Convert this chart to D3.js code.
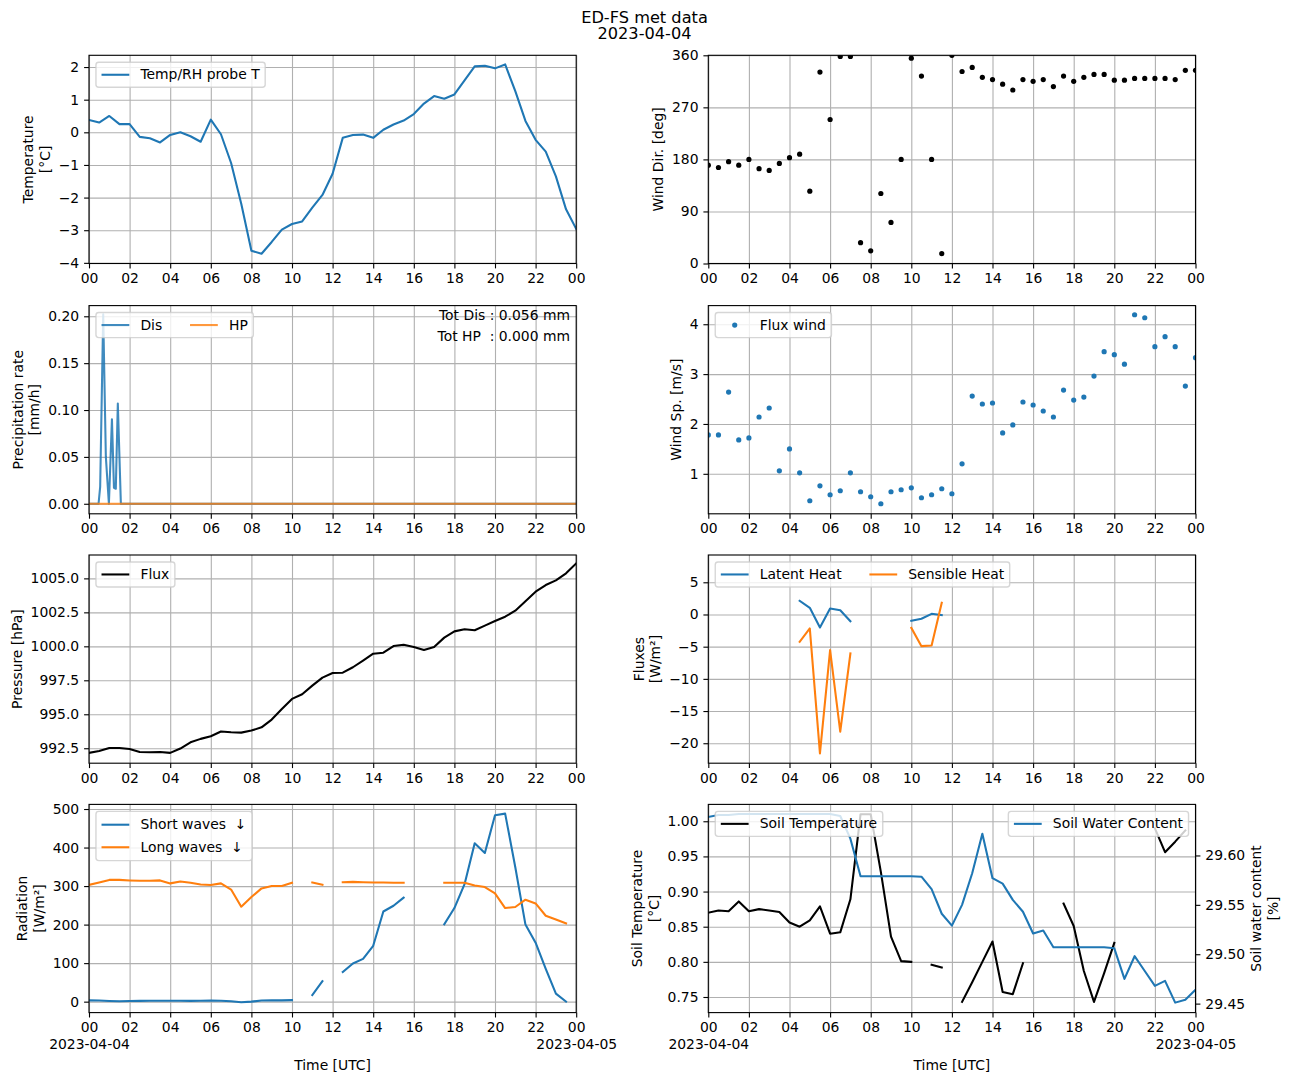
<!DOCTYPE html>
<html><head><meta charset="utf-8">
<script src="https://cdn.jsdelivr.net/npm/d3@7"></script>
<style>
body{margin:0;background:#fff;}
text{font-family:"DejaVu Sans",sans-serif;}
</style></head><body>
<svg id="c" width="1289" height="1082" xmlns="http://www.w3.org/2000/svg"></svg>
<script>
// ---------------- DATA ----------------
const hours = [0,0.5,1,1.5,2,2.5,3,3.5,4,4.5,5,5.5,6,6.5,7,7.5,8,8.5,9,9.5,10,10.5,11,11.5,12,12.5,13,13.5,14,14.5,15,15.5,16,16.5,17,17.5,18,18.5,19,19.5,20,20.5,21,21.5,22,22.5,23,23.5,24];
const xTickHours = [0,2,4,6,8,10,12,14,16,18,20,22,24];
const dateLabels = {0:"2023-04-04", 24:"2023-04-05"};

const tempT = [0.38,0.30,0.50,0.25,0.25,-0.14,-0.18,-0.31,-0.08,0.00,-0.12,-0.29,0.39,-0.06,-0.94,-2.19,-3.63,-3.72,-3.36,-2.98,-2.81,-2.73,-2.31,-1.92,-1.27,-0.17,-0.08,-0.07,-0.17,0.08,0.24,0.36,0.56,0.88,1.11,1.03,1.16,1.59,2.02,2.04,1.96,2.08,1.26,0.35,-0.23,-0.59,-1.35,-2.36,-2.96];
const windDir = [170,166,176,170,180,164,161,173,183,189,125,331,249,358,358,36,22,121,71,180,355,324,180,17,360,332,339,322,318,310,300,318,315,318,306,324,315,322,327,327,317,317,320,320,320,320,318,334,334];
const windSp = [1.78,1.78,2.64,1.68,1.72,2.14,2.32,1.06,1.50,1.02,0.46,0.76,0.58,0.66,1.02,0.64,0.54,0.40,0.64,0.68,0.72,0.52,0.58,0.70,0.60,1.20,2.56,2.40,2.42,1.82,1.98,2.44,2.38,2.26,2.14,2.68,2.48,2.54,2.96,3.45,3.39,3.20,4.19,4.13,3.55,3.75,3.55,2.76,3.33];
const pressure = [992.16,992.30,992.52,992.52,992.45,992.23,992.21,992.23,992.16,992.48,992.94,993.19,993.38,993.73,993.68,993.65,993.80,994.04,994.61,995.39,996.13,996.47,997.11,997.70,998.04,998.06,998.46,998.95,999.46,999.53,1000.02,1000.12,999.95,999.73,999.95,1000.64,1001.10,1001.25,1001.18,1001.52,1001.86,1002.18,1002.62,1003.31,1004.02,1004.51,1004.85,1005.37,1006.10];
const latentHeat = [null,null,null,null,null,null,null,null,null,2.12,1.04,-2.02,0.93,0.67,-1.04,null,null,null,null,null,-0.98,-0.67,0.10,-0.10,null,null,null,null,null,null,null,null,null,null,null,null,null,null,null,null,null,null,null,null,null,null,null,null,null];
const sensibleHeat = [null,null,null,null,null,null,null,null,null,-4.24,-2.17,-21.58,-5.54,-18.2,-6.06,null,null,null,null,null,-2.07,-4.92,-4.81,1.81,null,null,null,null,null,null,null,null,null,null,null,null,null,null,null,null,null,null,null,null,null,null,null,null,null];
const shortWaves = [3.4,3.0,1.7,0.9,1.5,2.0,2.5,2.5,2.5,2.5,2.0,2.5,3.0,2.5,1.0,-1.7,0.0,3.0,3.4,3.4,4.0,null,17,53,null,77,99,111,145,234,249,270,null,null,null,201,243,305,411,386,484,488,349,200,153,85,21,0,null];
const longWaves = [303,309.5,316,316,314.7,313.8,313.8,314.7,307,312,308.6,304,303,307,291,246.5,271.5,294,300,300,308.6,null,309.5,303.4,null,310,311,310,309.5,309.5,308.6,308.6,null,null,null,308.6,308.6,308.6,301.7,297.4,281,243,245.7,264.6,255,223,213,203.4,null];
const soilTemp = [0.870,0.873,0.872,0.886,0.872,0.875,0.873,0.871,0.856,0.850,0.859,0.879,0.840,0.842,0.889,1.010,1.010,0.928,0.836,0.801,0.800,null,0.796,0.792,null,0.743,0.771,0.800,0.829,0.757,0.754,0.798,null,null,null,0.883,0.851,0.787,0.743,0.784,0.827,null,null,null,0.990,0.956,0.971,0.987,null];
const soilWater = [29.639,29.641,29.641,29.642,29.642,29.642,29.642,29.642,29.642,29.642,29.642,29.642,29.642,29.640,29.617,29.579,29.579,29.579,29.579,29.579,29.579,29.5785,29.566,29.541,29.529,29.550,29.582,29.622,29.577,29.5715,29.555,29.543,29.521,29.524,29.507,29.507,29.507,29.507,29.507,29.507,29.506,29.475,29.498,29.483,29.468,29.473,29.451,29.454,29.464];
const disTimes = [0,0.47,0.55,0.70,0.83,0.98,1.13,1.23,1.32,1.42,1.57,24];
const disRate  = [0,0,0.018,0.202,0.05,0,0.09,0.017,0.016,0.107,0,0];
const hpTimes = [0,24];
const hpRate  = [0,0];
const totDis = "0.056", totHP = "0.000";

const tempTicks = [-4,-3,-2,-1,0,1,2];
const dirTicks = [0,90,180,270,360];
const precipTicks = [0,0.05,0.10,0.15,0.20];
const speedTicks = [1,2,3,4];
const pressTicks = [992.5,995,997.5,1000,1002.5,1005];
const fluxTicks = [-20,-15,-10,-5,0,5];
const radTicks = [0,100,200,300,400,500];
const soilTTicks = [0.75,0.80,0.85,0.90,0.95,1.00];
const soilWTicks = [29.45,29.50,29.55,29.60];

// ---------------- LAYOUT ----------------
const FS = 13.9, LW = 2.08, THIN = 1.11;
const BLUE = "#1f77b4", ORANGE = "#ff7f0e";
const LEFT = [89, 708.3], W = 487.2;
const TOPS = [55.3, 305.6, 555, 804.4], H = 208.2;
const svg = d3.select("#c");
svg.append("rect").attr("width",1289).attr("height",1082).attr("fill","#fff");

const title = svg.append("text").attr("text-anchor","middle").attr("font-size",16.2);
title.append("tspan").attr("x",644.5).attr("y",22.7).text("ED-FS met data");
title.append("tspan").attr("x",644.5).attr("y",39.2).text("2023-04-04");

const hFmt = h => d3.format("02d")(h % 24);

function makePanel(col,row,cfg){
  const g = svg.append("g").attr("transform",`translate(${LEFT[col]},${TOPS[row]})`);
  const x = d3.scaleLinear().domain([0,24]).range([0,W]);
  const y = d3.scaleLinear().domain(cfg.yDomain).range([H,0]);
  const id = "clip"+col+"_"+row;
  g.append("clipPath").attr("id",id).append("rect").attr("width",W).attr("height",H);
  const gx = g.append("g").attr("transform",`translate(0,${H})`)
    .call(d3.axisBottom(x).tickValues(xTickHours).tickSize(-H).tickFormat(""));
  gx.select(".domain").remove();
  gx.selectAll("line").attr("stroke","#b0b0b0").attr("stroke-width",THIN);
  const gy = g.append("g").call(d3.axisLeft(y).tickValues(cfg.yTicks).tickSize(-W).tickFormat(""));
  gy.select(".domain").remove();
  gy.selectAll("line").attr("stroke","#b0b0b0").attr("stroke-width",THIN);
  const plot = g.append("g").attr("clip-path",`url(#${id})`);
  return {g,x,y,plot,cfg,col,row,id};
}

function finishAxes(p){
  const {g,x,y,cfg,row} = p;
  g.append("rect").attr("width",W).attr("height",H).attr("fill","none").attr("stroke","#000").attr("stroke-width",THIN);
  const ax = g.append("g").attr("transform",`translate(0,${H})`)
    .call(d3.axisBottom(x).tickValues(xTickHours).tickSize(4.9).tickPadding(4.9).tickFormat(hFmt));
  ax.select(".domain").remove();
  ax.attr("font-size",FS).attr("font-family","DejaVu Sans");
  ax.selectAll("line").attr("stroke-width",THIN);
  if (row===3){
    ax.selectAll(".tick").filter(d=>dateLabels[d]!==undefined).select("text")
      .each(function(d){ d3.select(this).append("tspan").attr("x",0).attr("dy",16.6).text(dateLabels[d]); });
    g.append("text").attr("x",W/2).attr("y",H+57.5).attr("text-anchor","middle").attr("font-size",FS).text("Time [UTC]");
  }
  const ay = g.append("g").call(d3.axisLeft(y).tickValues(cfg.yTicks).tickSize(4.9).tickPadding(4.9).tickFormat(cfg.yFmt));
  ay.select(".domain").remove();
  ay.attr("font-size",FS).attr("font-family","DejaVu Sans");
  ay.selectAll("line").attr("stroke-width",THIN);
  let minX = 0;
  ay.selectAll(".tick text").each(function(){ const b=this.getBBox(); minX=Math.min(minX,b.x); });
  const lines = cfg.yLabel, n = lines.length;
  const lastBase = minX - 5.56 - 0.236*FS;
  lines.forEach((t,i)=>{
    const bx = lastBase - (n-1-i)*16.6;
    g.append("text").attr("transform",`translate(${bx},${H/2}) rotate(-90)`).attr("text-anchor","middle").attr("font-size",FS).text(t);
  });
}

function rightAxis(p, y, ticks, fmt, labelLines){
  const {g} = p;
  const ar = g.append("g").attr("transform",`translate(${W},0)`)
    .call(d3.axisRight(y).tickValues(ticks).tickSize(4.9).tickPadding(4.9).tickFormat(fmt));
  ar.select(".domain").remove();
  ar.attr("font-size",FS).attr("font-family","DejaVu Sans");
  ar.selectAll("line").attr("stroke-width",THIN);
  let maxX = 0;
  ar.selectAll(".tick text").each(function(){ const b=this.getBBox(); maxX=Math.max(maxX,b.x+b.width); });
  const firstBase = W + maxX + 5.56 + 0.76*FS;
  labelLines.forEach((t,i)=>{
    g.append("text").attr("transform",`translate(${firstBase+i*16.6},${H/2}) rotate(-90)`).attr("text-anchor","middle").attr("font-size",FS).text(t);
  });
}

function legend(g, items, opt={}){
  const pad=0.4*FS, hl=2*FS, htp=0.8*FS, cs=2*FS, ls=0.5*FS, bap=0.5*FS;
  const rowH = opt.rowH || FS;
  const ncol = opt.ncol || 1, nrow = Math.ceil(items.length/ncol);
  const lg = g.append("g");
  const frame = lg.append("rect");
  const texts = items.map(it => lg.append("text").attr("font-size",FS).style("white-space","pre").text(it.label));
  const widths = texts.map(t=>t.node().getComputedTextLength());
  const colW = [];
  for (let c=0;c<ncol;c++){
    let m=0; items.forEach((it,i)=>{ if (Math.floor(i/nrow)===c) m=Math.max(m,widths[i]); });
    colW.push(hl+htp+m);
  }
  const boxW = 2*pad + d3.sum(colW) + (ncol-1)*cs;
  const boxH = 2*pad + nrow*rowH + (nrow-1)*ls;
  const bx = opt.loc==="ur" ? W - bap - boxW : bap, by = bap;
  frame.attr("x",bx).attr("y",by).attr("width",boxW).attr("height",boxH).attr("rx",2.8)
    .attr("fill","#fff").attr("fill-opacity",0.8).attr("stroke","#cccccc").attr("stroke-opacity",0.8).attr("stroke-width",1.39);
  items.forEach((it,i)=>{
    const c = Math.floor(i/nrow), r = i%nrow;
    const x0 = bx + pad + d3.sum(colW.slice(0,c)) + c*cs;
    const cy = by + pad + r*(rowH+ls) + rowH/2;
    if (it.type==="dot"){
      lg.append("circle").attr("cx",x0+hl/2).attr("cy",cy).attr("r",2.6).attr("fill",it.color);
    } else {
      lg.append("line").attr("x1",x0).attr("x2",x0+hl).attr("y1",cy).attr("y2",cy)
        .attr("stroke",it.color).attr("stroke-width",LW).attr("stroke-opacity",it.opacity||1);
    }
    texts[i].attr("x",x0+hl+htp).attr("y",cy+0.33*FS);
  });
}

function drawLine(p, xs, vals, color, yScale, opacity){
  const ys = yScale || p.y;
  const data = xs.map((h,i)=>[h,vals[i]]);
  p.plot.append("path").datum(data)
    .attr("d", d3.line().defined(d=>d[1]!==null).x(d=>p.x(d[0])).y(d=>ys(d[1])))
    .attr("fill","none").attr("stroke",color).attr("stroke-width",LW)
    .attr("stroke-linejoin","round").attr("stroke-linecap","square").attr("stroke-opacity",opacity||1);
}
function drawDots(p, xs, vals, color){
  p.plot.selectAll(null).data(xs.map((h,i)=>[h,vals[i]]).filter(d=>d[1]!==null)).enter().append("circle")
    .attr("cx",d=>p.x(d[0])).attr("cy",d=>p.y(d[1])).attr("r",2.6).attr("fill",color);
}

// Panel 1: temperature
let p = makePanel(0,0,{yDomain:[-4.02,2.36],yTicks:tempTicks,yFmt:d3.format("d"),yLabel:["Temperature","[°C]"]});
drawLine(p,hours,tempT,BLUE);
finishAxes(p);
legend(p.g,[{label:"Temp/RH probe T",color:BLUE}]);

// Panel 2: wind direction
p = makePanel(1,0,{yDomain:[0,360],yTicks:dirTicks,yFmt:d3.format("d"),yLabel:["Wind Dir. [deg]"]});
drawDots(p,hours,windDir,"#000");
finishAxes(p);

// Panel 3: precipitation
p = makePanel(0,1,{yDomain:[-0.0107,0.2114],yTicks:precipTicks,yFmt:d3.format(".2f"),yLabel:["Precipitation rate","[mm/h]"]});
drawLine(p,disTimes,disRate,BLUE,null,0.85);
drawLine(p,hpTimes,hpRate,ORANGE,null,0.8);
finishAxes(p);
legend(p.g,[{label:"Dis",color:BLUE,opacity:0.85},{label:"HP",color:ORANGE,opacity:0.8}],{ncol:2});
p.g.append("text").attr("x",W-6.2).attr("y",14.1).attr("text-anchor","end").attr("font-size",FS).style("white-space","pre").text("Tot Dis : "+totDis+" mm");
p.g.append("text").attr("x",W-6.2).attr("y",35.1).attr("text-anchor","end").attr("font-size",FS).style("white-space","pre").text("Tot HP  : "+totHP+" mm");

// Panel 4: wind speed
p = makePanel(1,1,{yDomain:[0.198,4.374],yTicks:speedTicks,yFmt:d3.format("d"),yLabel:["Wind Sp. [m/s]"]});
drawDots(p,hours,windSp,BLUE);
finishAxes(p);
legend(p.g,[{label:"Flux wind",color:BLUE,type:"dot"}]);

// Panel 5: pressure
p = makePanel(0,2,{yDomain:[991.40,1006.72],yTicks:pressTicks,yFmt:d3.format(".1f"),yLabel:["Pressure [hPa]"]});
drawLine(p,hours,pressure,"#000");
finishAxes(p);
legend(p.g,[{label:"Flux",color:"#000"}]);

// Panel 6: fluxes
p = makePanel(1,2,{yDomain:[-23.1,9.24],yTicks:fluxTicks,yFmt:d3.format("d"),yLabel:["Fluxes","[W/m²]"]});
drawLine(p,hours,latentHeat,BLUE);
drawLine(p,hours,sensibleHeat,ORANGE);
finishAxes(p);
legend(p.g,[{label:"Latent Heat",color:BLUE},{label:"Sensible Heat",color:ORANGE}],{ncol:2});

// Panel 7: radiation
p = makePanel(0,3,{yDomain:[-28.4,512],yTicks:radTicks,yFmt:d3.format("d"),yLabel:["Radiation","[W/m²]"]});
drawLine(p,hours,shortWaves,BLUE);
drawLine(p,hours,longWaves,ORANGE);
finishAxes(p);
legend(p.g,[{label:"Short waves  ↓",color:BLUE},{label:"Long waves  ↓",color:ORANGE}],{rowH:15.6});

// Panel 8: soil
p = makePanel(1,3,{yDomain:[0.7278,1.024],yTicks:soilTTicks,yFmt:d3.format(".2f"),yLabel:["Soil Temperature","[°C]"]});
drawLine(p,hours,soilTemp,"#000");
legend(p.g,[{label:"Soil Temperature",color:"#000"}]);
const yW = d3.scaleLinear().domain([29.4409,29.6517]).range([H,0]);
drawLine(p,hours,soilWater,BLUE,yW);
legend(p.g,[{label:"Soil Water Content",color:BLUE}],{loc:"ur"});
finishAxes(p);
rightAxis(p,yW,soilWTicks,d3.format(".2f"),["Soil water content","[%]"]);
</script>
</body></html>
